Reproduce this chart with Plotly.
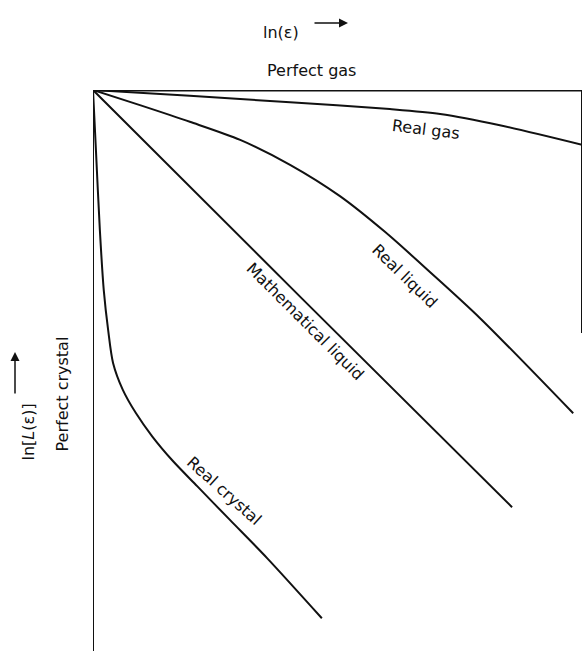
import plotly.graph_objects as go

# ln(eps) on x, ln[L(eps)] on y (arbitrary units, origin = perfect gas / perfect crystal corner)
gas_x = [0.0, 1.98, 4.03, 6.07, 7.10, 8.32, 10.0]
gas_y = [0.0, -0.12, -0.25, -0.39, -0.49, -0.72, -1.12]

liquid_x = [0.0, 0.96, 1.98, 3.01, 4.03, 5.05, 5.97, 6.89, 7.91, 9.82]
liquid_y = [0.0, -0.31, -0.65, -1.02, -1.53, -2.17, -2.90, -3.72, -4.66, -6.61]

math_x = [0.0, 4.28, 8.57]
math_y = [0.0, -4.27, -8.53]

crystal_x = [0.0, 0.06, 0.14, 0.22, 0.31, 0.41, 0.61, 0.88, 1.21, 1.62, 2.13, 2.80, 3.56, 4.68]
crystal_y = [0.0, -1.23, -2.86, -4.09, -4.91, -5.58, -6.13, -6.61, -7.08, -7.57, -8.10, -8.79, -9.57, -10.80]

labels = ["Real gas", "Real liquid", "Mathematical liquid", "Real crystal"]
label_x = [6.81, 6.36, 4.34, 2.68]
label_y = [-0.80, -3.80, -4.74, -8.18]
label_angle = [7, 44, 45, 42]

X_MAX = 10.0
Y_MIN = -11.47
RIGHT_EDGE_END = -4.97

W, H = 584, 651
M_L, M_R, M_T, M_B = 93, 2, 90, 0

FONT = "DejaVu Sans"
INK = "#111111"

fig = go.Figure()
for xs, ys in [(gas_x, gas_y), (liquid_x, liquid_y), (math_x, math_y), (crystal_x, crystal_y)]:
    fig.add_trace(go.Scatter(
        x=xs, y=ys, mode="lines",
        line=dict(color=INK, width=2, shape="spline", smoothing=0.8),
        cliponaxis=False, hoverinfo="skip", showlegend=False,
    ))

# frame: top edge, left edge, partial right edge
fig.add_shape(type="line", xref="x", yref="y", x0=-0.04, y0=0, x1=X_MAX, y1=0,
              line=dict(color=INK, width=3))
fig.add_shape(type="line", xref="x", yref="y", x0=0, y0=0, x1=0, y1=Y_MIN,
              line=dict(color=INK, width=2))
fig.add_shape(type="line", xref="x", yref="y", x0=X_MAX, y0=0, x1=X_MAX, y1=RIGHT_EDGE_END,
              line=dict(color=INK, width=2))


# paper-coordinate helpers for captions outside the plot area
def px_to_paper_x(px):
    return (px - M_L) / (W - M_L - M_R)


def px_to_paper_y(py):
    return (H - M_B - py) / (H - M_T - M_B)


caption_font = dict(family=FONT, size=16, color=INK)

ann = []
for t, lx, ly, ang in zip(labels, label_x, label_y, label_angle):
    ann.append(dict(x=lx, y=ly, xref="x", yref="y", text=t, showarrow=False,
                    textangle=ang, font=caption_font))

ann += [
    dict(x=px_to_paper_x(281), y=px_to_paper_y(21), xref="paper", yref="paper",
         text="ln(ε)", showarrow=False, font=caption_font),
    dict(x=px_to_paper_x(311), y=px_to_paper_y(59), xref="paper", yref="paper",
         text="Perfect gas", showarrow=False, font=caption_font),
    # horizontal arrow next to ln(eps)
    dict(x=px_to_paper_x(348), y=px_to_paper_y(23), xref="paper", yref="paper",
         ax=-35, ay=0, text="", showarrow=True, arrowhead=2, arrowsize=1.2,
         arrowwidth=1.5, arrowcolor=INK),
    # left caption, rotated
    dict(x=px_to_paper_x(16), y=px_to_paper_y(432), xref="paper", yref="paper",
         text="ln[<i>L</i>(ε)]", showarrow=False, textangle=-90, font=caption_font),
    dict(x=px_to_paper_x(15), y=px_to_paper_y(352), xref="paper", yref="paper",
         ax=0, ay=43, text="", showarrow=True, arrowhead=2, arrowsize=1.2,
         arrowwidth=1.5, arrowcolor=INK),
    dict(x=px_to_paper_x(50), y=px_to_paper_y(394), xref="paper", yref="paper",
         text="Perfect crystal", showarrow=False, textangle=-90, font=caption_font),
]

fig.update_layout(
    width=W, height=H, autosize=False,
    margin=dict(l=M_L, r=M_R, t=M_T, b=M_B),
    paper_bgcolor="white", plot_bgcolor="white",
    xaxis=dict(range=[0, X_MAX], visible=False, fixedrange=True),
    yaxis=dict(range=[Y_MIN, 0], visible=False, fixedrange=True),
    annotations=ann,
)

fig.write_html("out.html")
